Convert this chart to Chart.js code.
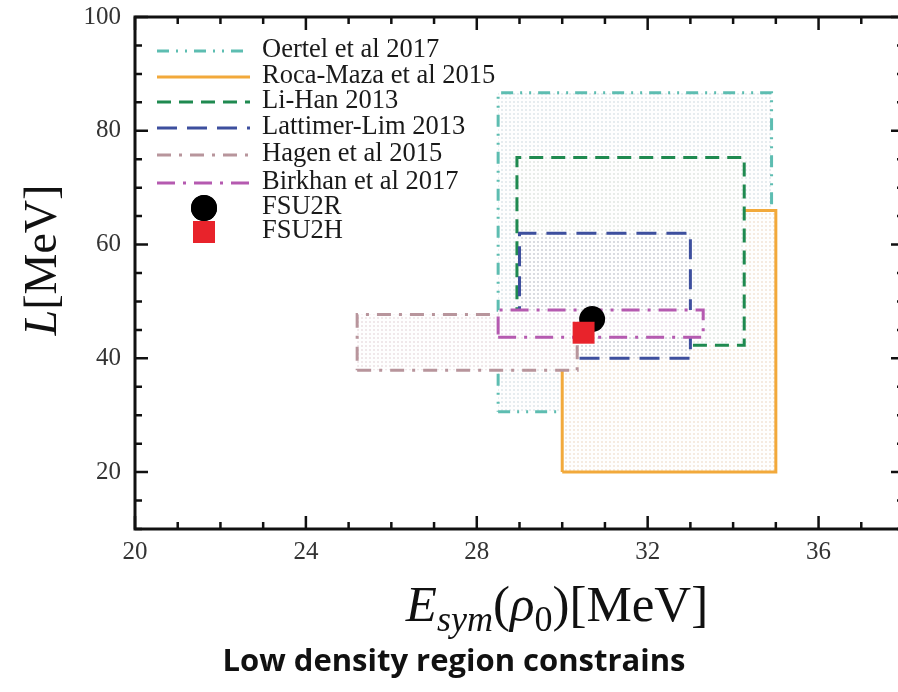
<!DOCTYPE html>
<html>
<head>
<meta charset="utf-8">
<script src="https://cdn.jsdelivr.net/npm/chart.js@4.4.0/dist/chart.umd.min.js"></script>
<style>
  html, body { margin: 0; padding: 0; background: #fff; overflow: hidden; }
  #chart__constraints { display: block; }
</style>
</head>
<body>
<canvas id="chart__constraints" width="904" height="692"></canvas>
<script>
// constraint boxes (legend order)
const boxNames = ['Oertel et al 2017', 'Roca-Maza et al 2015', 'Li-Han 2013', 'Lattimer-Lim 2013', 'Hagen et al 2015', 'Birkhan et al 2017'];
const esymMin = [28.5, 30.0, 28.94, 29.0, 25.2, 28.5];
const esymMax = [34.9, 35.0, 34.26, 33.0, 30.35, 33.3];
const slopeMin = [30.6, 20.0, 42.3, 40.0, 37.9, 43.7];
const slopeMax = [86.7, 66.0, 75.3, 62.0, 47.7, 48.5];

// model predictions
const modelNames = ['FSU2R', 'FSU2H'];
const modelEsym = [30.7, 30.5];
const modelSlope = [46.9, 44.5];

// axis ticks
const xTickLabels = [20, 24, 28, 32, 36];
const yTickLabels = [20, 40, 60, 80, 100];

const boxColors = ['#5dbdb1', '#f2a93b', '#1f8a50', '#3d4f9e', '#b8959c', '#b55ab0'];
const boxDashes = [[12, 7, 2, 7, 2, 7], [], [14, 8], [20, 10], [14, 8, 3, 8], [18, 8, 3, 8]];
const boxDots = ['#e6ecef', '#f5ebe1', '#e8ece9', '#d9dbe0', '#f0e8ea', '#eee6ee'];
const modelColors = ['#000000', '#e8232b'];
const modelShapes = ['circle', 'rect'];
const modelSizes = [13, 15.5];

const serif = '"Liberation Serif", "DejaVu Serif", serif';

// light stippled fill for the boxes
function stipple(dot) {
    const c = document.createElement('canvas');
    c.width = 4; c.height = 4;
    const g = c.getContext('2d');
    g.fillStyle = '#fefefe';
    g.fillRect(0, 0, 4, 4);
    g.fillStyle = dot;
    g.fillRect(1, 1, 2, 2);
    return g.createPattern(c, 'repeat');
}

const boxSets = boxNames.map((name, i) => ({
    label: name,
    data: [
        {x: esymMin[i], y: slopeMin[i]},
        {x: esymMax[i], y: slopeMin[i]},
        {x: esymMax[i], y: slopeMax[i]},
        {x: esymMin[i], y: slopeMax[i]},
        {x: esymMin[i], y: slopeMin[i]}
    ],
    showLine: true,
    fill: 'shape',
    backgroundColor: stipple(boxDots[i]),
    borderColor: boxColors[i],
    borderWidth: 3,
    borderDash: boxDashes[i],
    borderJoinStyle: 'miter',
    pointRadius: 0,
    tension: 0
}));

const modelSets = modelNames.map((name, i) => ({
    label: name,
    data: [{x: modelEsym[i], y: modelSlope[i]}],
    pointStyle: modelShapes[i],
    pointRadius: modelSizes[i],
    backgroundColor: modelColors[i],
    borderColor: modelColors[i],
    borderWidth: 0
}));

// later entries sit on top
const allSets = boxSets.concat(modelSets);
allSets.forEach((d, i) => { d.order = allSets.length - i; });

// frame + inward ticks on all four sides
const frameTicks = {
    id: 'frameTicks',
    afterDatasetsDraw(chart) {
        const {ctx, chartArea: a, scales: {x, y}} = chart;
        ctx.save();
        ctx.strokeStyle = '#111';
        ctx.lineWidth = 2.5;
        ctx.beginPath();
        for (let v = x.min; v <= x.max; v++) {
            const px = x.getPixelForValue(v);
            const len = v % 4 === 0 ? 13 : 7;
            ctx.moveTo(px, a.bottom); ctx.lineTo(px, a.bottom - len);
            ctx.moveTo(px, a.top); ctx.lineTo(px, a.top + len);
        }
        for (let v = y.min; v <= y.max; v += 5) {
            const py = y.getPixelForValue(v);
            const len = v % 20 === 0 ? 13 : 7;
            ctx.moveTo(a.left, py); ctx.lineTo(a.left + len, py);
            ctx.moveTo(a.right, py); ctx.lineTo(a.right - len, py);
        }
        ctx.stroke();
        ctx.lineWidth = 3;
        ctx.strokeRect(a.left, a.top, a.right - a.left, a.bottom - a.top);
        ctx.restore();
    }
};

// legend in the upper-left corner of the plot
const cornerLegend = {
    id: 'cornerLegend',
    afterDraw(chart) {
        const ctx = chart.ctx;
        const a = chart.chartArea;
        const rowY = [50, 76, 101, 127, 154, 182, 207, 231];
        ctx.save();
        chart.data.datasets.forEach((d, i) => {
            const yy = rowY[i];
            if (d.showLine) {
                ctx.strokeStyle = d.borderColor;
                ctx.lineWidth = 3;
                ctx.setLineDash(d.borderDash);
                ctx.beginPath();
                ctx.moveTo(a.left + 22, yy + 1);
                ctx.lineTo(a.left + 115, yy + 1);
                ctx.stroke();
                ctx.setLineDash([]);
            } else {
                ctx.fillStyle = d.backgroundColor;
                Chart.helpers.drawPoint(ctx, {pointStyle: d.pointStyle, radius: d.pointRadius, borderWidth: 0}, a.left + 69, yy + 1);
                ctx.fill();
            }
            ctx.fillStyle = '#1a1a1a';
            ctx.font = '26.5px ' + serif;
            ctx.textAlign = 'left';
            ctx.textBaseline = 'middle';
            ctx.fillText(d.label, a.left + 127, yy);
        });
        ctx.restore();
    }
};

// axis titles with italics and subscripts
const axisTitles = {
    id: 'axisTitles',
    afterDraw(chart) {
        const ctx = chart.ctx;
        ctx.save();
        ctx.fillStyle = '#111';
        ctx.textBaseline = 'alphabetic';

        // vertical title
        ctx.save();
        ctx.translate(56, 260);
        ctx.rotate(-Math.PI / 2);
        const yParts = [['italic 46px ' + serif, 'L'], ['46px ' + serif, '[MeV]']];
        let w = 0;
        yParts.forEach(p => { ctx.font = p[0]; w += ctx.measureText(p[1]).width; });
        let cx = -w / 2;
        yParts.forEach(p => { ctx.font = p[0]; ctx.fillText(p[1], cx, 0); cx += ctx.measureText(p[1]).width; });
        ctx.restore();

        // horizontal title
        const xParts = [
            ['italic 51px ' + serif, 'E', 0],
            ['italic 36px ' + serif, 'sym', 10],
            ['51px ' + serif, '(', 0],
            ['italic 51px ' + serif, 'ρ', 0],
            ['36px ' + serif, '0', 10],
            ['51px ' + serif, ')[MeV]', 0]
        ];
        w = 0;
        xParts.forEach(p => { ctx.font = p[0]; w += ctx.measureText(p[1]).width; });
        cx = 557 - w / 2;
        xParts.forEach(p => { ctx.font = p[0]; ctx.fillText(p[1], cx, 621 + p[2]); cx += ctx.measureText(p[1]).width; });

        ctx.font = 'bold 31px "Open Sans", "Noto Sans", sans-serif';
        ctx.textAlign = 'center';
        ctx.textBaseline = 'middle';
        ctx.fillText('Low density region constrains', 454, 662);
        ctx.restore();
    }
};

const chart = new Chart(document.getElementById('chart__constraints'), {
    type: 'scatter',
    data: { datasets: allSets },
    options: {
        responsive: false,
        animation: false,
        layout: { autoPadding: false, padding: { top: 17, left: 0, right: 0, bottom: 0 } },
        plugins: {
            legend: { display: false },
            tooltip: { enabled: false }
        },
        scales: {
            x: {
                type: 'linear',
                min: 20,
                max: 38,
                afterBuildTicks: (s) => { s.ticks = xTickLabels.map(v => ({value: v})); },
                afterFit: (s) => { s.height = 163; s.paddingLeft = 0; s.paddingRight = 0; },
                grid: { display: false, drawTicks: false },
                border: { display: false },
                ticks: {
                    padding: 8,
                    color: '#333',
                    font: { family: serif, size: 25 },
                    maxRotation: 0
                }
            },
            y: {
                type: 'linear',
                min: 10,
                max: 100,
                afterBuildTicks: (s) => { s.ticks = yTickLabels.map(v => ({value: v})); },
                afterFit: (s) => { s.width = 135; s.paddingTop = 0; s.paddingBottom = 0; },
                grid: { display: false, drawTicks: false },
                border: { display: false },
                ticks: {
                    padding: 14,
                    color: '#333',
                    font: { family: serif, size: 25 }
                }
            }
        }
    },
    plugins: [frameTicks, cornerLegend, axisTitles]
});
</script>
</body>
</html>
